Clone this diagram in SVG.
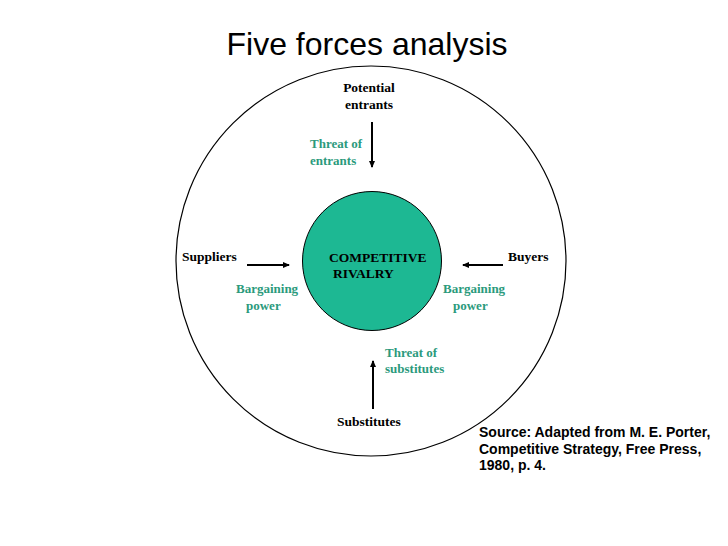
<svg xmlns="http://www.w3.org/2000/svg" width="728" height="546" viewBox="0 0 728 546">
<style>
.lbl{font-family:"Liberation Serif",serif;font-weight:bold;font-size:13.5px;fill:#000}
.frc{font-family:"Liberation Serif",serif;font-weight:bold;font-size:13px;fill:#2B9A7C}
.arr{stroke:#000;stroke-width:2;fill:none;marker-end:url(#ah)}
</style>
<defs>
<marker id="ah" markerWidth="8" markerHeight="8" refX="6" refY="4" orient="auto" markerUnits="userSpaceOnUse">
<path d="M0,1 L7,4 L0,7 Z" fill="#000"/>
</marker>
</defs>
<rect width="728" height="546" fill="#fff"/>
<text x="367" y="55" text-anchor="middle" font-family="Liberation Sans,sans-serif" font-size="32" fill="#000">Five forces analysis</text>
<g id="outer"><circle cx="371" cy="261" r="195" fill="none" stroke="#000" stroke-width="1.2"/></g>
<g id="rivalry">
<circle cx="372" cy="261" r="69.5" fill="#1DB893" stroke="#000" stroke-width="1"/>
<text class="lbl" x="329" y="262">COMPETITIVE</text>
<text class="lbl" x="333" y="278">RIVALRY</text>
</g>
<g id="entrants">
<text class="lbl" x="369" y="92" text-anchor="middle">Potential</text>
<text class="lbl" x="369" y="109" text-anchor="middle">entrants</text>
</g>
<g id="suppliers"><text class="lbl" x="182" y="261">Suppliers</text></g>
<g id="buyers"><text class="lbl" x="508" y="261">Buyers</text></g>
<g id="substitutes"><text class="lbl" x="337" y="426">Substitutes</text></g>
<g id="connectors">
<line class="arr" x1="372" y1="122" x2="372" y2="167"/>
<line class="arr" x1="247" y1="265" x2="289" y2="265"/>
<line class="arr" x1="503" y1="265" x2="463" y2="265"/>
<line class="arr" x1="373" y1="409" x2="373" y2="361"/>
</g>
<g id="labels">
<text class="frc" x="310" y="148">Threat of</text>
<text class="frc" x="310" y="165">entrants</text>
<text class="frc" x="236" y="293">Bargaining</text>
<text class="frc" x="246" y="310">power</text>
<text class="frc" x="443" y="293">Bargaining</text>
<text class="frc" x="453" y="310">power</text>
<text class="frc" x="385" y="357">Threat of</text>
<text class="frc" x="385" y="373">substitutes</text>
</g>
<g id="source" font-family="Liberation Sans,sans-serif" font-weight="bold" font-size="14" fill="#000">
<text x="479" y="437">Source: Adapted from M. E. Porter,</text>
<text x="479" y="454">Competitive Strategy, Free Press,</text>
<text x="479" y="470">1980, p. 4.</text>
</g>
</svg>
